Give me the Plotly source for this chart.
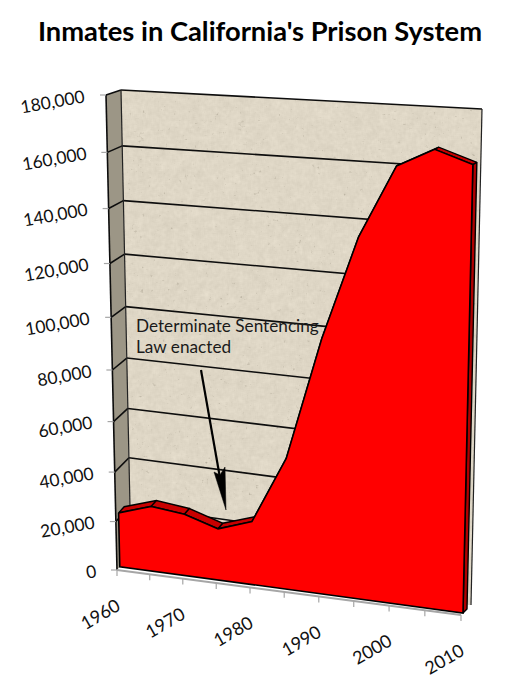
import base64
import struct
import zlib

import numpy as np
import plotly.graph_objects as go

# ---- data ----
YEARS = [1960, 1965, 1970, 1975, 1980, 1985, 1990, 1995, 2000, 2005, 2010]
INMATES = [22300, 26600, 25100, 20900, 25500, 51900, 98300, 135800, 161000, 167300, 163000]
Y_TICKS = [0, 20000, 40000, 60000, 80000, 100000, 120000, 140000, 160000, 180000]
X_TICK_LABELS = [1960, 1970, 1980, 1990, 2000, 2010]
TITLE = "Inmates in California's Prison System"
NOTE_LINES = ["Determinate Sentencing", "Law enacted"]

# ---- view: the 3-D box corners on the page, (u, v) = (time, value) fractions ----
FRONT = {(0, 0): (117, 570), (1, 0): (461, 615), (0, 1): (106, 95), (1, 1): (472, 114)}
BACK = {(0, 0): (131, 553.5), (1, 0): (471, 605), (0, 1): (121, 90), (1, 1): (482, 109)}
Y_MAX = 180000
V_BEND = -0.035
D_AREA_FRONT, D_AREA_BACK = 0.2, 0.6


def homography(c):
    A, b = [], []
    for (u, v), (x, y) in c.items():
        A.append([u, v, 1, 0, 0, 0, -u * x, -v * x]); b.append(x)
        A.append([0, 0, 0, u, v, 1, -u * y, -v * y]); b.append(y)
    return np.append(np.linalg.solve(np.array(A, float), np.array(b, float)), 1).reshape(3, 3)


HF, HB = homography(FRONT), homography(BACK)


def proj(year, value, depth=0.0):
    u = (year - YEARS[0]) / (YEARS[-1] - YEARS[0])
    v = value / Y_MAX
    v = v + V_BEND * v * (1 - v)
    pts = []
    for H in (HF, HB):
        p = H @ np.array([u, v, 1.0])
        pts.append(p[:2] / p[2])
    xy = pts[0] * (1 - depth) + pts[1] * depth
    return float(xy[0]), float(xy[1])


def path(points, close=False):
    xs = [p[0] for p in points]
    ys = [p[1] for p in points]
    if close:
        xs.append(xs[0]); ys.append(ys[0])
    return xs, ys


def segs(pairs):
    xs, ys = [], []
    for a, b in pairs:
        xs += [a[0], b[0], None]
        ys += [a[1], b[1], None]
    return xs, ys


fig = go.Figure()
y0, y1 = YEARS[0], YEARS[-1]


def poly(points, fill, line="rgba(0,0,0,0)", width=0):
    x, y = path(points, True)
    fig.add_trace(go.Scatter(x=x, y=y, mode="lines", fill="toself", fillcolor=fill,
                             line=dict(color=line, width=width), hoverinfo="skip",
                             showlegend=False))


def lines(pairs, color, width):
    x, y = segs(pairs)
    fig.add_trace(go.Scatter(x=x, y=y, mode="lines", line=dict(color=color, width=width),
                             hoverinfo="skip", showlegend=False))


# ---- mottled paper look of the back wall (a deterministic texture, not data) ----
def hash_noise(xx, yy, a, b):
    v = np.sin(xx * a + yy * b) * 43758.5453
    return v - np.floor(v)


def blur(img, r):
    k = np.ones(2 * r + 1) / (2 * r + 1)
    out = np.apply_along_axis(lambda m: np.convolve(m, k, mode="same"), 0, img)
    return np.apply_along_axis(lambda m: np.convolve(m, k, mode="same"), 1, out)


def wall_texture(corners):
    xs = [c[0] for c in corners]
    ys = [c[1] for c in corners]
    left, top = int(min(xs)) - 1, int(min(ys)) - 1
    w, h = int(max(xs)) + 2 - left, int(max(ys)) + 2 - top
    yy, xx = np.mgrid[top:top + h, left:left + w].astype(float)
    coarse = blur(hash_noise(xx, yy, 12.9898, 78.233), 3) - 0.5
    fine = blur(hash_noise(xx, yy, 39.346, 11.135), 1) - 0.5
    speck = np.clip(blur(hash_noise(xx, yy, 93.989, 67.345), 1) - 0.68, 0, 1)
    shade = coarse * 34 + fine * 18 - speck * 170
    base = np.array([223.0, 215.0, 198.0])
    rgb = np.clip(base[None, None, :] + shade[:, :, None], 0, 255)
    inside = np.ones((h, w), bool)
    n = len(corners)
    for i in range(n):
        ax, ay = corners[i]
        bx, by = corners[(i + 1) % n]
        cross = (bx - ax) * (yy + 0.5 - ay) - (by - ay) * (xx + 0.5 - ax)
        inside &= cross >= 0
    alpha = inside * 255.0
    rgba = np.dstack([rgb, alpha]).astype(np.uint8)
    raw = b"".join(b"\x00" + rgba[i].tobytes() for i in range(h))

    def chunk(tag, data):
        return (struct.pack(">I", len(data)) + tag + data +
                struct.pack(">I", zlib.crc32(tag + data) & 0xFFFFFFFF))

    png = (b"\x89PNG\r\n\x1a\n" + chunk(b"IHDR", struct.pack(">IIBBBBB", w, h, 8, 6, 0, 0, 0)) +
           chunk(b"IDAT", zlib.compress(raw, 9)) + chunk(b"IEND", b""))
    return "data:image/png;base64," + base64.b64encode(png).decode(), left, top, w, h


wall = [proj(y0, 0, 1), proj(y0, Y_MAX, 1), proj(y1, Y_MAX, 1), proj(y1, 0, 1)]
tex, tex_x, tex_y, tex_w, tex_h = wall_texture(wall)

# side wall
poly([proj(y0, 0, 0), proj(y0, 0, 1), proj(y0, Y_MAX, 1), proj(y0, Y_MAX, 0)], "#9C9686")

# gridlines across both walls (the lower ones end behind the area)
lines([(proj(y0, t, 1), proj(YEARS[-2], t, 1)) for t in Y_TICKS[1:-1]], "#0d0d0d", 1.6)
lines([(proj(y0, Y_MAX, 1), proj(y1, Y_MAX, 1))], "#0d0d0d", 1.6)
lines([(proj(y0, t, 0), proj(y0, t, 1)) for t in Y_TICKS[1:]], "#0d0d0d", 1.6)
lines([(proj(y0, 0, 0), proj(y0, Y_MAX, 0))], "#0d0d0d", 1.6)
lines([(proj(y0, 0, 1), proj(y0, Y_MAX, 1)), (proj(y1, 0, 1), proj(y1, Y_MAX, 1))], "#222222", 1.2)

# value ticks and time axis
tick_pairs = []
for t in Y_TICKS:
    x, y = proj(y0, t, 0)
    tick_pairs.append(((x - 6, y), (x, y)))
lines(tick_pairs, "#A6A6A6", 1.2)
lines([(proj(y0, 0, 0), proj(y1, 0, 0))], "#A6A6A6", 2)
time_ticks = []
for yr in YEARS:
    x, y = proj(yr, 0, 0)
    time_ticks.append(((x, y), (x, y + 6)))
lines(time_ticks, "#A6A6A6", 1.2)

# the area: top strip, right side, front face
for i in range(len(YEARS) - 1):
    poly([proj(YEARS[i], INMATES[i], D_AREA_FRONT), proj(YEARS[i + 1], INMATES[i + 1], D_AREA_FRONT),
          proj(YEARS[i + 1], INMATES[i + 1], D_AREA_BACK), proj(YEARS[i], INMATES[i], D_AREA_BACK)],
         "#C80000", "#000000", 1.4)
poly([proj(y1, INMATES[-1], D_AREA_FRONT), proj(y1, INMATES[-1], D_AREA_BACK),
      proj(y1, 0, D_AREA_BACK), proj(y1, 0, D_AREA_FRONT)], "#B00000", "#000000", 1.4)
front = [proj(y, v, D_AREA_FRONT) for y, v in zip(YEARS, INMATES)]
front += [proj(y1, 0, D_AREA_FRONT), proj(y0, 0, D_AREA_FRONT)]
poly(front, "#FF0000", "#000000", 1.6)

# text
FONT = "Lato, 'Open Sans', sans-serif"
INK = "#111111"
ann = []
for t in Y_TICKS:
    x, y = proj(y0, t, 0)
    label = f"{t:,}"
    w = sum(5.0 if c == "," else 10.1 for c in label)
    ann.append(dict(x=x - 21 - w / 2 * np.cos(np.radians(10)), y=y + 0.5 + w / 2 * np.sin(np.radians(10)),
                    text=label, textangle=-10, showarrow=False, xanchor="center", yanchor="middle",
                    font=dict(family=FONT, size=17.5, color=INK)))
for yr in X_TICK_LABELS:
    x, y = proj(yr, 0, 0)
    ann.append(dict(x=x - 17.5, y=y + 43.5, text=str(yr), textangle=-30, showarrow=False,
                    xanchor="center", yanchor="middle", font=dict(family=FONT, size=18, color=INK)))
for line_text, ly in zip(NOTE_LINES, (325, 346)):
    ann.append(dict(x=133.5, y=ly, text=line_text, showarrow=False, xanchor="left", yanchor="middle",
                    font=dict(family=FONT, size=17.2, color="#1a1a1a")))

shapes = [
    dict(type="line", x0=201, y0=370, x1=220, y1=478, line=dict(color="#000000", width=2.2)),
    dict(type="path", path="M226,510 L214,472 L220,475 L225,467 Z", fillcolor="#000000",
         line=dict(color="#000000", width=0.5)),
]

fig.update_layout(
    width=506, height=694, margin=dict(l=0, r=0, t=0, b=0),
    paper_bgcolor="#FFFFFF", plot_bgcolor="rgba(0,0,0,0)", showlegend=False,
    title=dict(text=f"<b>{TITLE}</b>", x=260 / 506, xanchor="center", y=1 - 31 / 694, yanchor="middle",
               font=dict(family=FONT, size=27.3, color="#000000")),
    xaxis=dict(range=[0, 506], visible=False, fixedrange=True),
    yaxis=dict(range=[694, 0], visible=False, fixedrange=True),
    images=[dict(source=tex, xref="x", yref="y", x=tex_x, y=tex_y, sizex=tex_w, sizey=tex_h,
                 sizing="stretch", layer="below", xanchor="left", yanchor="top")],
    annotations=ann, shapes=shapes,
)
fig.write_html("out.html", config={"displayModeBar": False},
               post_script="document.body.style.margin='0';")
